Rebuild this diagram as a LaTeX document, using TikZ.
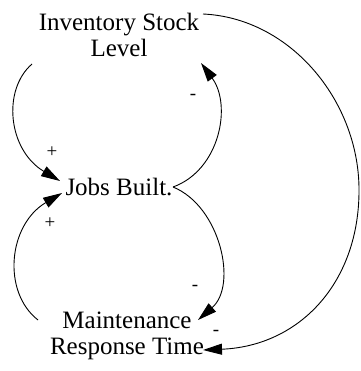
\documentclass[tikz,border=0pt]{standalone}
\usepackage{fontspec}
\setmainfont{Liberation Serif}
\usetikzlibrary{arrows.meta}
\begin{document}
\begin{tikzpicture}[x=1pt,y=-1pt,
  var/.style={font=\fontsize{25}{26.5}\selectfont, align=center, inner sep=0pt},
  link/.style={line width=0.9pt, -{Triangle[length=19pt,width=11pt]}},
  pol/.style={font=\fontsize{19}{19}\selectfont, inner sep=0pt}]
\useasboundingbox (0,0) rectangle (360,371);
\node[var] (isl) at (119,35) {Inventory Stock\\Level};
\node[var] (jb) at (119,187) {Jobs Built.};
\node[var] (mrt) at (127,336) {Maintenance\\Response Time};
\coordinate (a1s) at (32,64);
\coordinate (a1e) at (60,181);
\coordinate (a2s) at (173,187);
\coordinate (a2e) at (201,63);
\coordinate (a3e) at (198,320);
\coordinate (a4s) at (38,320);
\coordinate (a4e) at (62,193);
\coordinate (a5s) at (203,14);
\coordinate (a5e) at (203,350);
\draw[link] (a1s) .. controls (2,90) and (8,150) .. (a1e);
\draw[link] (a2s) .. controls (220,170) and (232,105) .. (a2e);
\draw[link] (a2s) .. controls (220,206) and (238,285) .. (a3e);
\draw[link] (a4s) .. controls (2,292) and (8,225) .. (a4e);
\draw[link] (a5s) .. controls (290,18) and (358,100) .. (359,188)
   .. controls (360,282) and (300,346) .. (a5e);
\node[pol] (p1) at (52,152) {+};
\node[pol] (p2) at (50,223) {+};
\node[pol] (m1) at (193,97) {-};
\node[pol] (m2) at (195,288) {-};
\node[pol] (m3) at (216,333) {-};
\end{tikzpicture}
\end{document}
